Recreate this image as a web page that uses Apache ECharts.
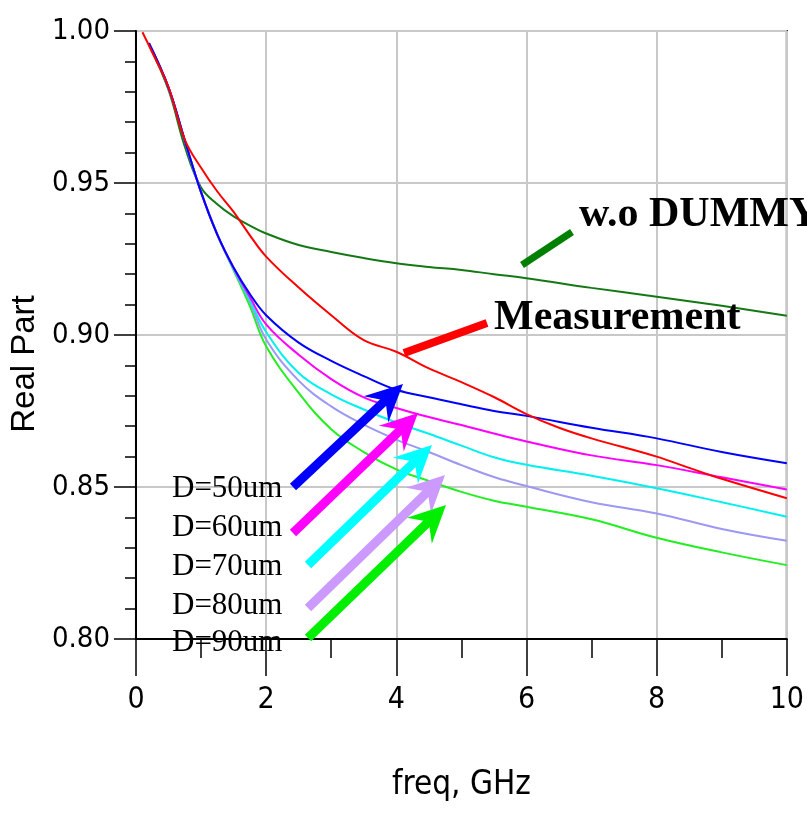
<!DOCTYPE html>
<html>
<head>
<meta charset="utf-8">
<script src="https://cdn.jsdelivr.net/npm/echarts@6/dist/echarts.min.js"></script>
<style>html,body{margin:0;padding:0;background:#fff;}#c{width:807px;height:815px;}</style>
</head>
<body>
<div id="c"></div>
<script>
// ---- data ----
const xTickLabels = ['0', '2', '4', '6', '8', '10'];
const yTickLabels = ['0.80', '0.85', '0.90', '0.95', '1.00'];

const freqSim  = [0.2, 0.5, 0.75, 1, 1.25, 1.5, 1.75, 2, 2.5, 3, 3.5, 4, 4.5, 5, 5.5, 6, 7, 8, 9, 10];
const freqMeas = [0.1, 0.25, 0.5, 0.75, 1, 1.25, 1.5, 1.75, 2, 2.5, 3, 3.5, 4, 4.5, 5, 5.5, 6, 6.5, 7, 8, 8.5, 9, 10];

const woDummy = [0.9954, 0.9806, 0.962, 0.9485, 0.943, 0.939, 0.936, 0.9334, 0.9296, 0.9273, 0.9253, 0.9236, 0.9224, 0.9214, 0.9200, 0.9187, 0.9155, 0.9126, 0.9096, 0.9063];
const measurement = [0.9996, 0.993, 0.9815, 0.9643, 0.955, 0.9472, 0.9405, 0.9328, 0.9258, 0.9156, 0.9065, 0.8983, 0.8945, 0.889, 0.8845, 0.8796, 0.874, 0.8695, 0.866, 0.86, 0.8563, 0.8527, 0.8463];
const d50 = [0.996, 0.9814, 0.964, 0.947, 0.933, 0.9222, 0.9135, 0.9065, 0.8975, 0.8915, 0.8865, 0.882, 0.8795, 0.8772, 0.875, 0.8734, 0.8695, 0.866, 0.8615, 0.8578];
const d60 = [0.996, 0.9814, 0.964, 0.947, 0.933, 0.922, 0.9125, 0.9035, 0.8935, 0.8855, 0.8795, 0.876, 0.873, 0.8704, 0.8676, 0.865, 0.8604, 0.8572, 0.8532, 0.8492];
const d70 = [0.996, 0.9814, 0.964, 0.947, 0.933, 0.9218, 0.9115, 0.901, 0.8875, 0.8805, 0.8755, 0.8712, 0.8675, 0.8636, 0.8598, 0.8573, 0.8537, 0.8496, 0.845, 0.8402];
const d80 = [0.996, 0.9814, 0.964, 0.947, 0.933, 0.9216, 0.911, 0.8985, 0.885, 0.8765, 0.8705, 0.8656, 0.8615, 0.8572, 0.8533, 0.8503, 0.845, 0.8413, 0.8362, 0.8323];
const d90 = [0.996, 0.9814, 0.964, 0.947, 0.933, 0.9213, 0.9095, 0.8963, 0.881, 0.869, 0.8615, 0.8558, 0.852, 0.8484, 0.8455, 0.8435, 0.8394, 0.8333, 0.8285, 0.8243];

const dLabels = ['D=50um', 'D=60um', 'D=70um', 'D=80um', 'D=90um'];

// ---- chart ----
function pairs(xs, ys) { return xs.map((x, i) => [x, ys[i]]); }
const narrow = '"Liberation Sans Narrow", "Arial Narrow", "DejaVu Sans Condensed", sans-serif';
const serif = '"Liberation Serif", "Times New Roman", serif';

const chart = echarts.init(document.getElementById('c'), null, { renderer: 'canvas' });

function mkLine(name, xs, ys, color) {
  return {
    name: name, type: 'line', data: pairs(xs, ys), showSymbol: false, symbol: 'none',
    smooth: 0.4,
    lineStyle: { color: color, width: 2 }, itemStyle: { color: color }, z: 3
  };
}

// arrows (annotation graphics, pixel positions)
function arrow(tail, tip, color) {
  const dx = tip[0] - tail[0], dy = tip[1] - tail[1];
  const len = Math.hypot(dx, dy);
  const ux = dx / len, uy = dy / len;
  const nx = -uy, ny = ux;
  const L = 37, W = 18, N = 24;
  const base = [tip[0] - N * ux, tip[1] - N * uy];
  return [
    { type: 'line', shape: { x1: tail[0], y1: tail[1], x2: base[0] + ux * 2, y2: base[1] + uy * 2 },
      style: { stroke: color, lineWidth: 9, lineCap: 'butt' }, z: 10 },
    { type: 'polygon', shape: { points: [
        tip,
        [tip[0] - L * ux + W * nx, tip[1] - L * uy + W * ny],
        base,
        [tip[0] - L * ux - W * nx, tip[1] - L * uy - W * ny]
      ] }, style: { fill: color }, z: 10 }
  ];
}

const arrowSpecs = [
  [[293, 487], [403, 384], '#0000ff'],
  [[293, 533], [418, 413], '#ff00ff'],
  [[308, 565], [432, 445], '#00ffff'],
  [[308, 608], [445, 475], '#cc99ff'],
  [[308, 638], [446, 505], '#00ee00']
];
const labelY = [489, 528, 567, 606, 643];

let graphics = [];
arrowSpecs.forEach(a => { graphics = graphics.concat(arrow(a[0], a[1], a[2])); });
dLabels.forEach((t, i) => {
  graphics.push({ type: 'text', z: 11, style: { text: t, x: 172, y: labelY[i], font: '31px ' + serif, fill: '#000', align: 'left', verticalAlign: 'middle' } });
});
graphics.push({ type: 'line', z: 10, shape: { x1: 522, y1: 265, x2: 572, y2: 232 }, style: { stroke: '#008000', lineWidth: 7 } });
graphics.push({ type: 'line', z: 10, shape: { x1: 404, y1: 353, x2: 487, y2: 323 }, style: { stroke: '#ff0000', lineWidth: 8 } });
graphics.push({ type: 'text', z: 11, style: { text: 'w.o DUMMY', x: 579, y: 215, font: 'bold 42px ' + serif, fill: '#000', align: 'left', verticalAlign: 'middle' } });
graphics.push({ type: 'text', z: 11, style: { text: 'Measurement', x: 494, y: 318, font: 'bold 42px ' + serif, fill: '#000', align: 'left', verticalAlign: 'middle' } });

const option = {
  animation: false,
  backgroundColor: '#ffffff',
  grid: { left: 135, right: 15, top: 31, bottom: 176, show: true, borderColor: '#000', borderWidth: 2, backgroundColor: '#ffffff' },
  xAxis: {
    type: 'value', min: 0, max: 10, interval: 2,
    name: 'freq, GHz', nameLocation: 'middle', nameGap: 130,
    nameTextStyle: { fontFamily: narrow, fontSize: 33, color: '#000' },
    axisLine: { show: true, onZero: false, lineStyle: { color: '#000', width: 2 } },
    axisTick: { show: true, length: 37, lineStyle: { color: '#000', width: 1.5 } },
    minorTick: { show: true, splitNumber: 2, length: 19, lineStyle: { color: '#000', width: 1.5 } },
    splitLine: { show: true, lineStyle: { color: '#c8c8c8', width: 2 } },
    axisLabel: { margin: 46, fontFamily: narrow, fontSize: 30, color: '#000',
      formatter: v => { const i = Math.round(v / 2); return xTickLabels[i] !== undefined ? xTickLabels[i] : ''; } }
  },
  yAxis: {
    type: 'value', min: 0.8, max: 1.0, interval: 0.05,
    name: 'Real Part', nameLocation: 'middle', nameGap: 93, nameRotate: 90,
    nameTextStyle: { fontFamily: '"Liberation Sans", Arial, sans-serif', fontSize: 33, color: '#000', padding: [0, 58, 0, 0] },
    axisLine: { show: true, onZero: false, lineStyle: { color: '#000', width: 2 } },
    axisTick: { show: true, length: 22, lineStyle: { color: '#000', width: 1.5 } },
    minorTick: { show: true, splitNumber: 5, length: 11, lineStyle: { color: '#000', width: 1.5 } },
    splitLine: { show: true, lineStyle: { color: '#c8c8c8', width: 2 } },
    axisLabel: { margin: 26, fontFamily: narrow, fontSize: 29, color: '#000',
      formatter: v => { const i = Math.round((v - 0.8) / 0.05); return yTickLabels[i] !== undefined ? yTickLabels[i] : ''; } }
  },
  series: [
    mkLine('w.o DUMMY', freqSim, woDummy, '#147814'),
    mkLine('D=90um', freqSim, d90, '#22ee22'),
    mkLine('D=80um', freqSim, d80, '#9c98f4'),
    mkLine('D=70um', freqSim, d70, '#00f0f0'),
    mkLine('D=60um', freqSim, d60, '#ff00ff'),
    mkLine('D=50um', freqSim, d50, '#0000ff'),
    mkLine('Measurement', freqMeas, measurement, '#ff0000')
  ],
  graphic: graphics
};
chart.setOption(option);
</script>
</body>
</html>
